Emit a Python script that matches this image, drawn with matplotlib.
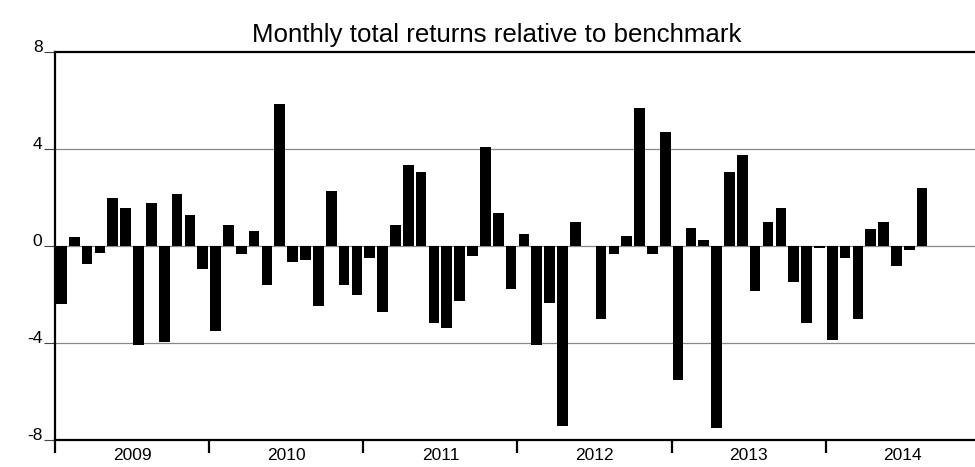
import matplotlib
matplotlib.use("Agg")
import matplotlib.pyplot as plt
import numpy as np

plt.rcParams['font.family'] = ['Liberation Sans', 'DejaVu Sans']

years = ["2009", "2010", "2011", "2012", "2013", "2014"]
returns = [
    # 2009
    -2.38, 0.37, -0.75, -0.29, 1.99, 1.58, -4.07, 1.76, -3.97, 2.16, 1.27, -0.93,
    # 2010
    -3.51, 0.86, -0.31, 0.61, -1.62, 5.87, -0.64, -0.56, -2.46, 2.27, -1.62, -2.01,
    # 2011
    -0.49, -2.72, 0.85, 3.34, 3.04, -3.17, -3.40, -2.28, -0.40, 4.07, 1.38, -1.77,
    # 2012
    0.49, -4.07, -2.35, -7.41, 0.98, -0.02, -2.99, -0.35, 0.41, 5.71, -0.35, 4.70,
    # 2013
    -5.54, 0.74, 0.26, -7.52, 3.04, 3.75, -1.84, 0.97, 1.58, -1.47, -3.18, -0.07,
    # 2014
    -3.89, -0.51, -2.99, 0.72, 0.97, -0.82, -0.15, 2.39,
]
yticks = [-8, -4, 0, 4, 8]
title = "Monthly total returns relative to benchmark"

fig = plt.figure(figsize=(9.75, 4.67), dpi=100)
ax = fig.add_axes([0.0564, 0.0578, 0.9487, 0.8309])

x = np.arange(len(returns)) + 0.5
ax.bar(x, returns, width=0.83, color='black', zorder=3)

ax.set_ylim(-8, 8)
ax.set_xlim(0, 12 * len(years))
ax.set_yticks(yticks)
ax.set_yticklabels([str(v) for v in yticks], fontsize=12.5, va='baseline')
for v in yticks[1:-1]:
    ax.axhline(v, color='#888888', linewidth=0.9, zorder=1)

ax.set_xticks([12 * i for i in range(len(years))])
ax.set_xticklabels([])
ax.set_xticks([12 * i + 6 for i in range(len(years))], minor=True)
ax.set_xticklabels(years, minor=True, fontsize=12.5)
ax.tick_params(axis='x', which='major', direction='out', length=9, width=1.6, color='black')
ax.tick_params(axis='x', which='minor', length=0, pad=6)
ax.tick_params(axis='y', direction='out', length=8, width=0.8, pad=1, color='#444444')

for s in ax.spines.values():
    s.set_linewidth(1.6)
    s.set_color('black')

fig.text(496.5 / 975, 1 - 42 / 467, title, fontsize=18.6, ha='center', va='baseline')

fig.savefig("out.png", dpi=100)
